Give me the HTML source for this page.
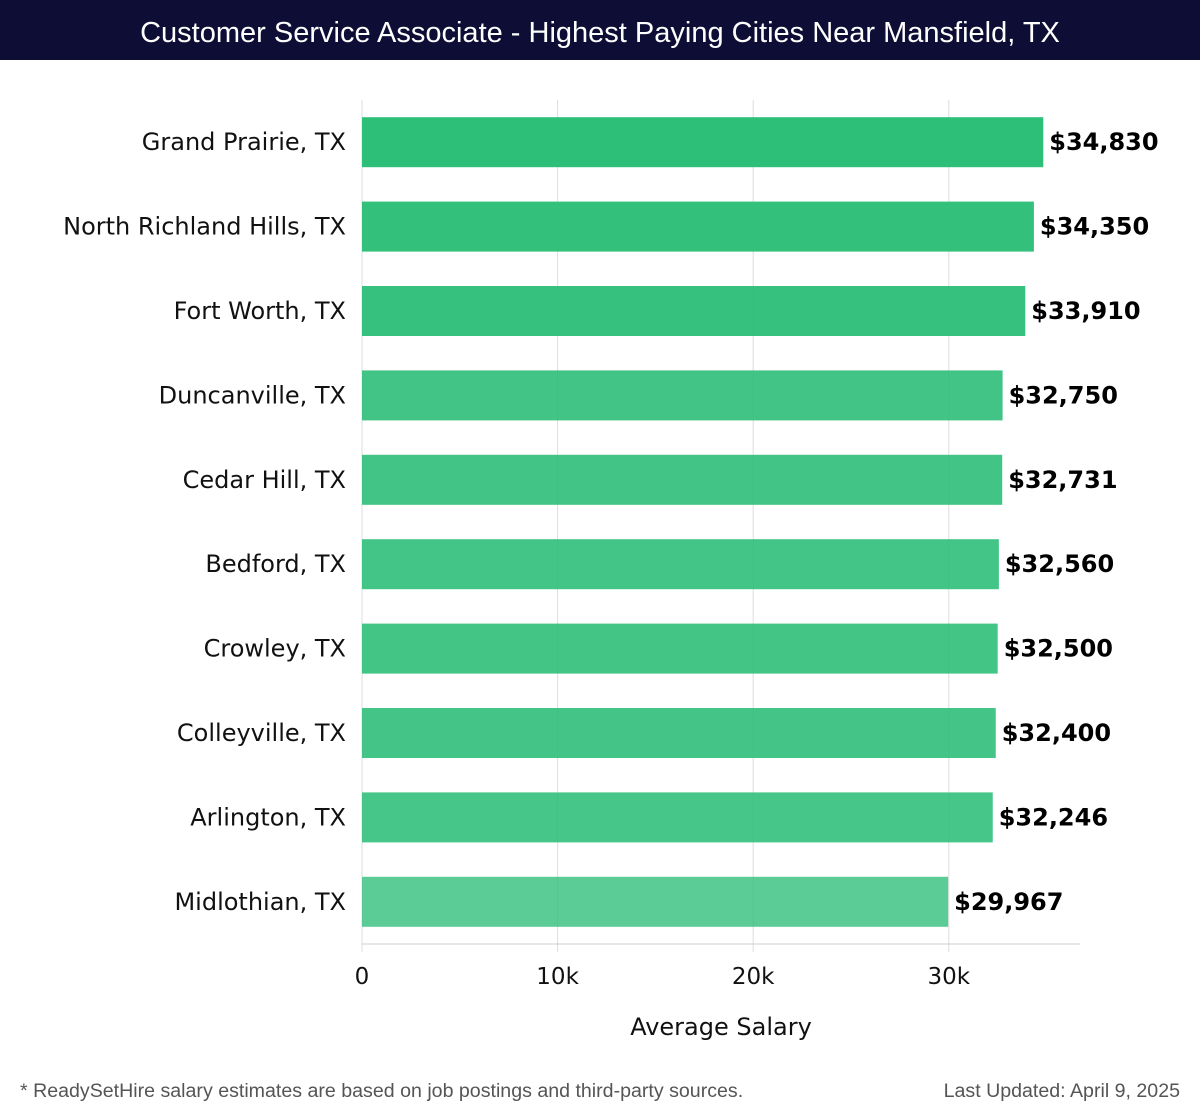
<!DOCTYPE html>
<html><head><meta charset="utf-8"><style>
body{margin:0;width:1200px;height:1120px;background:#fff;overflow:hidden;font-family:"DejaVu Sans","Liberation Sans",sans-serif}
#title{position:absolute;left:0;top:0;width:1200px;height:60px;background:#0d0d35;color:#fff;font-size:29px;line-height:66px;text-align:center;font-family:"Liberation Sans",sans-serif}
.foot{position:absolute;top:1080px;font-size:19.6px;color:#555;font-family:"Liberation Sans",sans-serif}
</style></head><body>
<div id="title">Customer Service Associate - Highest Paying Cities Near Mansfield, TX</div>
<svg id="chart" width="1200" height="1120" style="position:absolute;left:0;top:0"></svg>
<div class="foot" style="left:20px">* ReadySetHire salary estimates are based on job postings and third-party sources.</div>
<div class="foot" style="right:20px">Last Updated: April 9, 2025</div>
<script>
const cities=["Grand Prairie, TX","North Richland Hills, TX","Fort Worth, TX","Duncanville, TX","Cedar Hill, TX","Bedford, TX","Crowley, TX","Colleyville, TX","Arlington, TX","Midlothian, TX"];
const salaries=[34830,34350,33910,32750,32731,32560,32500,32400,32246,29967];
const ticks=[0,10000,20000,30000];
const tickLabels=["0","10k","20k","30k"];
const NS="http://www.w3.org/2000/svg";
const svg=document.getElementById('chart');
const x0=362,pxPer=195.6/10000,top0=100,bandH=84.4,barH=50;
const X=v=>x0+v*pxPer;
const Y=i=>top0+i*bandH+(bandH-barH)/2;
function mk(t,a){const e=document.createElementNS(NS,t);for(const k in a)e.setAttribute(k,a[k]);svg.appendChild(e);return e;}
ticks.forEach((t,i)=>{
 const g=mk('line',{x1:X(t),x2:X(t),y1:top0,y2:952,stroke:'#ddd','stroke-width':1});
 
 
 const l=mk('text',{x:X(t),y:984,'text-anchor':'middle','font-size':23,fill:'#111'});
 l.textContent=tickLabels[i];
 
 
});
const ax=mk('line',{x1:x0,x2:1080,y1:944,y2:944,stroke:'#ccc'});


const mn=Math.min(...salaries),mx=Math.max(...salaries);
salaries.forEach((v,i)=>{
 const r=mk('rect',{x:x0,y:Y(i),width:X(v)-x0,height:barH,fill:'#2dbe78','fill-opacity':0.78+0.22*(v-mn)/(mx-mn)});
 
 
 const c=mk('text',{x:346,y:Y(i)+barH/2+8,'text-anchor':'end','font-size':24,fill:'#111'});
 c.textContent=cities[i];
 
 
 const vl=mk('text',{x:X(v)+6,y:Y(i)+barH/2+8,'font-size':24,'font-weight':'bold',fill:'#000'});
 vl.textContent='$'+v.toLocaleString('en-US');
 
 
});
const at=mk('text',{x:721,y:1035,'text-anchor':'middle','font-size':24,fill:'#111'});
at.textContent='Average Salary';


</script>
</body></html>
